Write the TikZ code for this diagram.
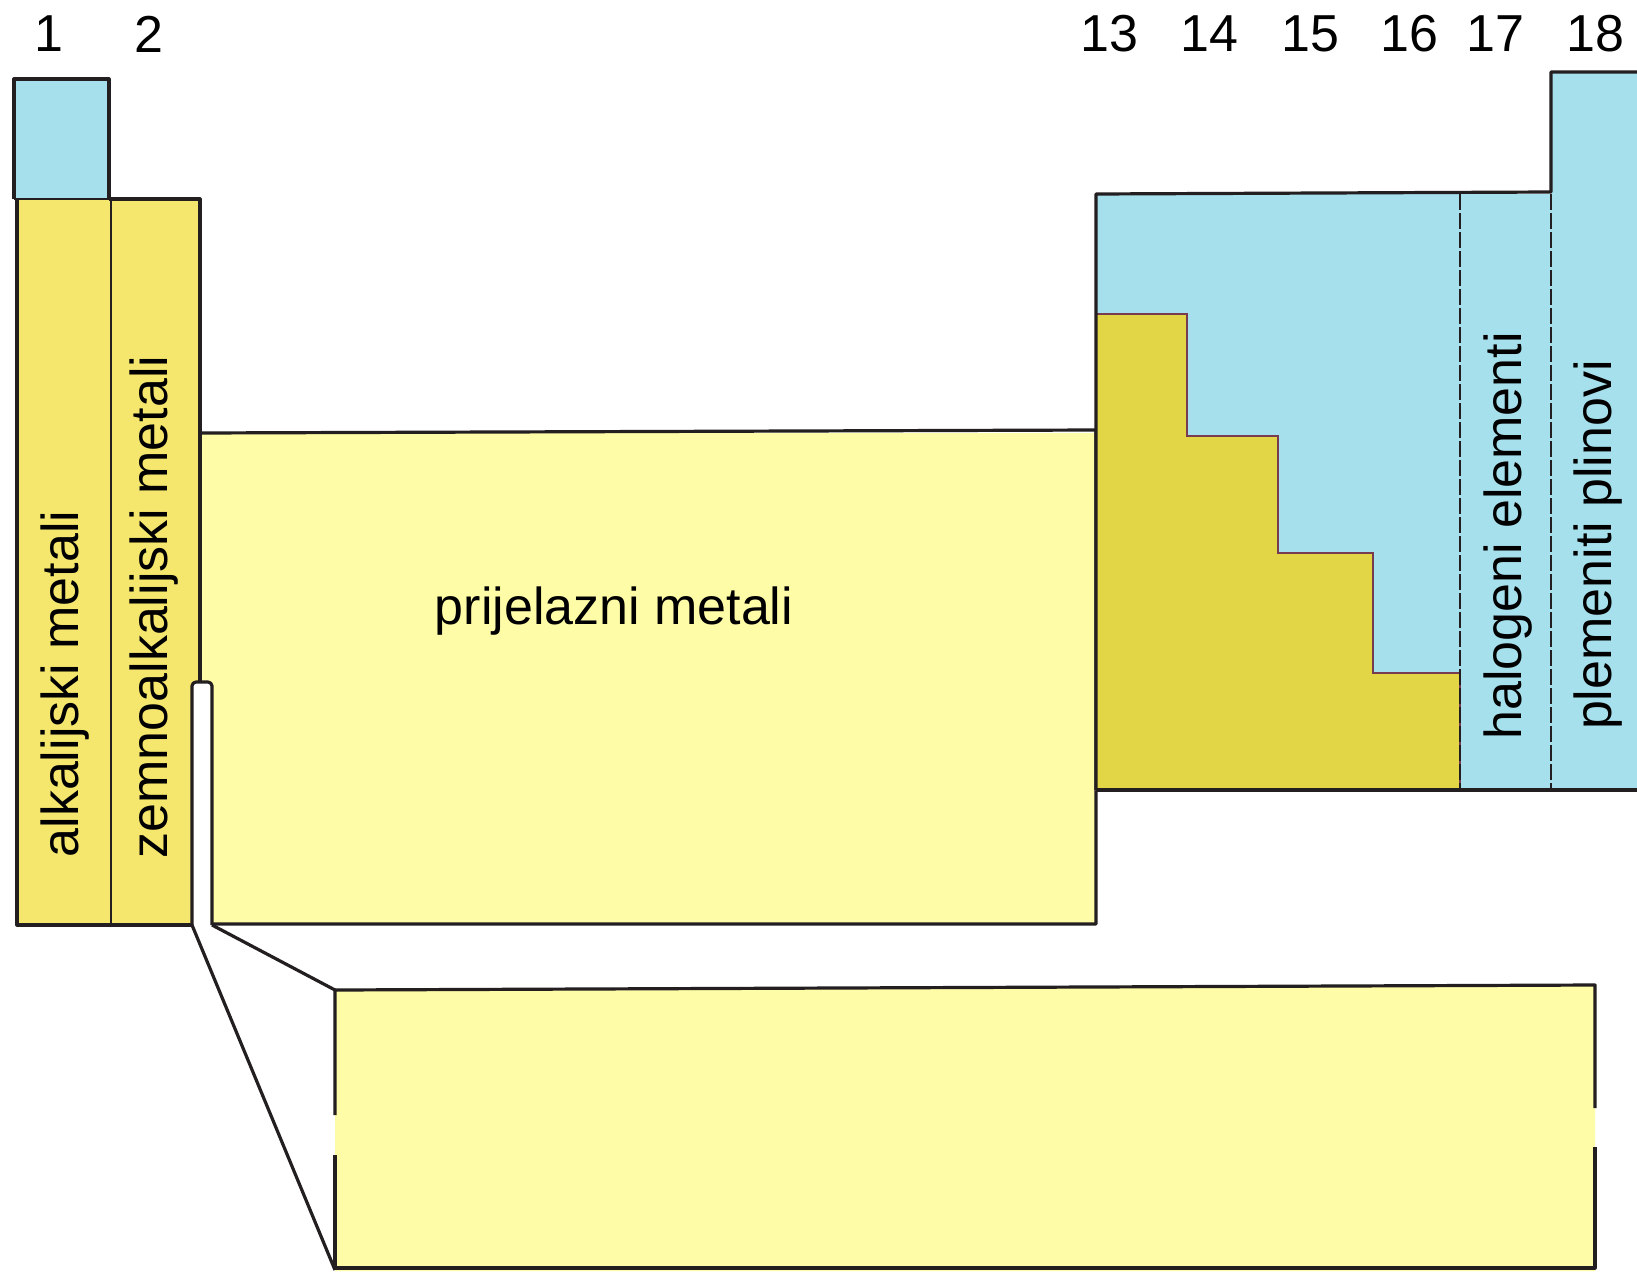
\documentclass[tikz,border=0pt]{standalone}
\usepackage{fontspec}
\setmainfont{Liberation Sans}
\definecolor{cblue}{RGB}{167,224,237}
\definecolor{cyel}{RGB}{245,230,110}
\definecolor{clight}{RGB}{255,252,168}
\definecolor{cstair}{RGB}{226,214,70}
\definecolor{cline}{RGB}{35,30,32}
\definecolor{stairline}{RGB}{120,60,80}
\begin{document}
\begin{tikzpicture}[x=1pt,y=-1pt,
  edge/.style={draw=cline,line width=3.2pt,line join=round},
  thinedge/.style={draw=cline,line width=1.8pt},
  lbl/.style={font=\fontsize{52}{60}\selectfont,inner sep=0pt,text=black}]
\useasboundingbox (0,0) rectangle (1637,1271);
\fill[white] (0,0) rectangle (1637,1271);

% left block: groups 1 and 2
\fill[cblue] (14,79) rectangle (109,199);
\fill[cyel] (16,199) rectangle (110,925);
\fill[cyel] (110,199) rectangle (200,925);
% transition metals
\fill[clight] (200,433) rectangle (1096,924);
% notch
\fill[white] (192,682) rectangle (212,926);

\draw[edge] (14,199) -- (14,79) -- (109,79) -- (109,199);
\draw[edge] (17,199) -- (17,925) -- (192,925);
\draw[thinedge] (14,199) -- (200,199);
\draw[edge] (109,199) -- (200,199) -- (200,682);
\draw[thinedge] (111,199) -- (111,925);
\draw[edge] (200,433) -- (1096,430) -- (1096,924) -- (212,924);
\draw[edge,rounded corners=4pt] (192,925) -- (192,682) -- (212,682) -- (212,925);
\draw[edge] (192,925) -- (335,1270);
\draw[edge] (212,925) -- (335,990);

% lower (f-block) box
\fill[clight] (335,990) -- (1595,985) -- (1595,1271) -- (335,1271) -- cycle;
\draw[edge] (335,1115) -- (335,990) -- (1595,985) -- (1595,1108);
\draw[edge] (335,1155) -- (335,1268) -- (1595,1268) -- (1595,1147);

% right block
\fill[cblue] (1096,194) rectangle (1637,790);
\fill[cblue] (1551,72) rectangle (1637,194);
\filldraw[fill=cstair,draw=stairline,line width=1.2pt]
  (1096,314) -- (1187,314) -- (1187,436) -- (1278,436) -- (1278,553)
  -- (1373,553) -- (1373,673) -- (1460,673) -- (1460,790) -- (1096,790) -- cycle;
\draw[thinedge,dashed,dash pattern=on 16pt off 3pt] (1460,194) -- (1460,790);
\draw[thinedge,dashed,dash pattern=on 16pt off 3pt] (1551,194) -- (1551,790);
\draw[edge] (1096,790) -- (1096,194) -- (1551,192) -- (1551,72) -- (1637,72);
\draw[edge] (1096,790) -- (1637,790);

% group numbers
\node[lbl] (n1) at (49,34) {1};
\node[lbl] (n2) at (149,34) {2};
\node[lbl] (n13) at (1109,34) {13};
\node[lbl] (n14) at (1209,34) {14};
\node[lbl] (n15) at (1310,34) {15};
\node[lbl] (n16) at (1409,34) {16};
\node[lbl] (n17) at (1495,34) {17};
\node[lbl] (n18) at (1595,34) {18};

% labels
\node[lbl] (tm) at (614,611) {prijelazni metali};
\node[lbl,rotate=90] (alk) at (65,684) {alkalijski metali};
\node[lbl,rotate=90] (zem) at (154,607) {zemnoalkalijski metali};
\node[lbl,rotate=90] (hal) at (1508,536) {halogeni elementi};
\node[lbl,rotate=90] (ple) at (1598,545) {plemeniti plinovi};
\end{tikzpicture}
\end{document}
